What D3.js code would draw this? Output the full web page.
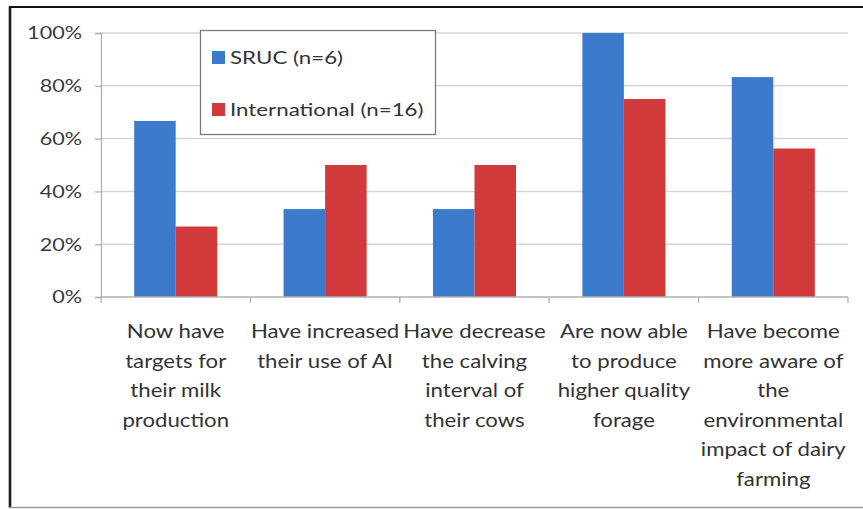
<!DOCTYPE html>
<html>
<head>
<meta charset="utf-8">
<script src="https://cdn.jsdelivr.net/npm/d3@7"></script>
<style>
  html, body { margin: 0; padding: 0; background: #fff; }
  svg { display: block; }
</style>
</head>
<body>
<svg id="chart" width="863" height="509"></svg>
<script>
// Survey outcomes: share of farmers reporting each change, by group
const categories = [
  ["Now have", "targets for", "their milk", "production"],
  ["Have increased", "their use of AI"],
  ["Have decrease", "the calving", "interval of", "their cows"],
  ["Are now able", "to produce", "higher quality", "forage"],
  ["Have become", "more aware of", "the", "environmental", "impact of dairy", "farming"]
];
const seriesNames = ["SRUC (n=6)", "International (n=16)"];
const sruc = [66.7, 33.3, 33.3, 100, 83.3];
const international = [26.7, 50, 50, 75, 56.25];
const yTicks = [0, 20, 40, 60, 80, 100];
const colors = ["#3c7acb", "#d03a3a"];

const FONT = "Lato, 'Open Sans', sans-serif";
const WIDEN = 1.2; // glyphs are drawn slightly wide

const svg = d3.select("#chart");
const W = 863, H = 509;
const margin = { left: 101, right: W - 848, top: 33, bottom: H - 297 };
const plotW = W - margin.left - margin.right;
const plotH = H - margin.top - margin.bottom;

// frame around the figure
svg.append("line").attr("x1", 9).attr("x2", W).attr("y1", 7).attr("y2", 7)
  .attr("stroke", "#111").attr("stroke-width", 2.2);
svg.append("line").attr("x1", 10).attr("x2", 10).attr("y1", 6).attr("y2", 508)
  .attr("stroke", "#1a1a1a").attr("stroke-width", 2.6);
svg.append("line").attr("x1", 9).attr("x2", W).attr("y1", 507.5).attr("y2", 507.5)
  .attr("stroke", "#9a9a9a").attr("stroke-width", 1.6);

const g = svg.append("g").attr("transform", `translate(${margin.left},${margin.top})`);

const x0 = d3.scaleBand().domain(d3.range(categories.length)).range([0, plotW]).paddingInner(0).paddingOuter(0);
const groupW = x0.bandwidth() * 0.556;
const x1 = d3.scaleBand().domain([0, 1]).range([0, groupW]);
const y = d3.scaleLinear().domain([0, 100]).range([plotH, 0]);

// horizontal gridlines
g.selectAll(".grid").data(yTicks.filter(t => t > 0)).join("line")
  .attr("x1", 0).attr("x2", plotW)
  .attr("y1", d => y(d)).attr("y2", d => y(d))
  .attr("stroke", "#d6d6d6").attr("stroke-width", 1.5);

// y axis (tick labels drawn separately so they can be widened)
const yAxis = d3.axisLeft(y).tickValues(yTicks).tickFormat("").tickSize(6);
const ya = g.append("g").call(yAxis);
ya.select(".domain").attr("stroke", "#b0b0b0").attr("stroke-width", 1.3);
ya.selectAll(".tick line").attr("stroke", "#b0b0b0").attr("stroke-width", 1.3);
g.selectAll(".ylab").data(yTicks).join("text")
  .attr("transform", d => `translate(-19,${y(d)}) scale(${WIDEN},1)`)
  .attr("dy", "0.35em")
  .attr("text-anchor", "end")
  .attr("font-family", FONT).attr("font-size", 18).attr("fill", "#3a3a3a")
  .text(d => d + "%");

// bars
const rows = categories.map((c, i) => [sruc[i], international[i]]);
const groups = g.selectAll(".grp").data(rows).join("g")
  .attr("transform", (d, i) => `translate(${x0(i) + (x0.bandwidth() - groupW) / 2},0)`);
groups.selectAll("rect").data(d => d).join("rect")
  .attr("x", (d, j) => x1(j))
  .attr("width", x1.bandwidth())
  .attr("y", d => y(d))
  .attr("height", d => plotH - y(d))
  .attr("fill", (d, j) => colors[j]);

// x axis with category separators
g.append("line").attr("x1", 0).attr("x2", plotW).attr("y1", plotH).attr("y2", plotH)
  .attr("stroke", "#b0b0b0").attr("stroke-width", 1.3);
g.selectAll(".sep").data(d3.range(categories.length + 1)).join("line")
  .attr("x1", i => i * x0.bandwidth()).attr("x2", i => i * x0.bandwidth())
  .attr("y1", plotH).attr("y2", plotH + 6)
  .attr("stroke", "#b0b0b0").attr("stroke-width", 1.3);

// category labels
const lbl = g.selectAll(".cat").data(categories).join("text")
  .attr("transform", (d, i) => `translate(${x0(i) + x0.bandwidth() / 2},${plotH}) scale(${WIDEN},1)`)
  .attr("text-anchor", "middle")
  .attr("font-family", FONT)
  .attr("font-size", 18.5).attr("fill", "#333");
lbl.selectAll("tspan").data(d => d).join("tspan")
  .attr("x", 0)
  .attr("y", (d, k) => 41 + k * 29.6)
  .text(d => d);

// legend
const lg = svg.append("g");
lg.append("rect").attr("x", 200.5).attr("y", 30.5).attr("width", 235).attr("height", 104)
  .attr("fill", "#fff").attr("stroke", "#7a7a7a").attr("stroke-width", 1.3);
seriesNames.forEach((name, i) => {
  const yy = 51 + i * 52;
  lg.append("rect").attr("x", 212).attr("y", yy).attr("width", 13).attr("height", 13).attr("fill", colors[i]);
  lg.append("text")
    .attr("transform", `translate(230,${yy + 13}) scale(1.24,1)`)
    .attr("font-family", FONT).attr("font-size", 18).attr("fill", "#333")
    .text(name);
});
</script>
</body>
</html>
